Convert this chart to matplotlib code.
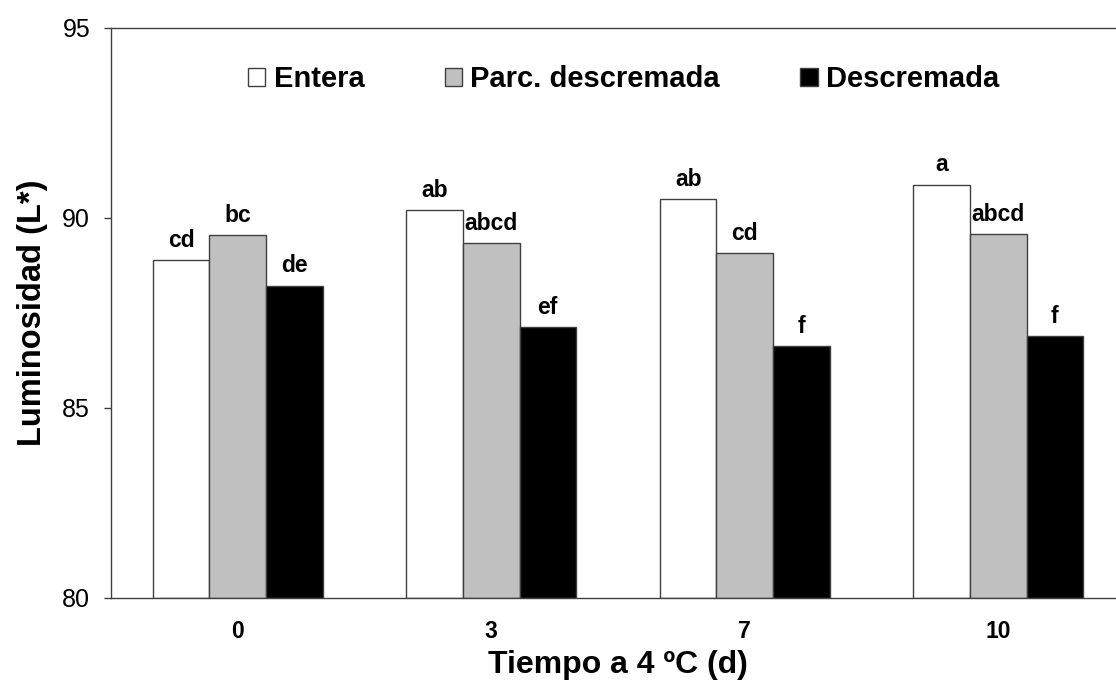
import matplotlib.pyplot as plt
import numpy as np

plt.rcParams['font.family'] = ['Liberation Sans', 'DejaVu Sans']

# Data
days = ["0", "3", "7", "10"]
series_names = ["Entera", "Parc. descremada", "Descremada"]
entera = [88.9, 90.2, 90.5, 90.88]
parc_descremada = [89.55, 89.35, 89.07, 89.58]
descremada = [88.22, 87.12, 86.63, 86.9]

# Significance letters above each bar
letters_entera = ["cd", "ab", "ab", "a"]
letters_parc = ["bc", "abcd", "cd", "abcd"]
letters_desc = ["de", "ef", "f", "f"]

colors = ["white", "#C0C0C0", "black"]
edge = "#404040"

fig = plt.figure(figsize=(11.16, 6.81), dpi=100)
# axes runs slightly past the right edge like the original
ax = fig.add_axes([111 / 1116, 83 / 681, 1014 / 1116, 570 / 681])

x = np.arange(len(days))
width = 0.223
values = [entera, parc_descremada, descremada]
letters = [letters_entera, letters_parc, letters_desc]

for i, (vals, labs) in enumerate(zip(values, letters)):
    pos = x + (i - 1) * width
    ax.bar(pos, np.array(vals) - 80, width, bottom=80, color=colors[i],
           edgecolor=edge, linewidth=1, label=series_names[i])
    for xp, v, lab in zip(pos, vals, labs):
        ax.annotate(lab, (xp, v), xytext=(0, 9.5), textcoords="offset points",
                    ha="center", va="baseline", fontsize=16.5, fontweight="bold")

ax.set_xlim(-0.5, 3.5)
ax.set_ylim(80, 95)
ax.set_yticks([80, 85, 90, 95])
ax.set_xticks(x)
ax.set_xticklabels(days, fontsize=16.5, fontweight="bold")
ax.tick_params(axis="y", direction="out", length=5, width=1, color=edge,
               labelsize=18, pad=10)
ax.tick_params(axis="x", length=0, pad=16)

for side in ["left", "bottom", "top", "right"]:
    ax.spines[side].set_color(edge)
    ax.spines[side].set_linewidth(1)

ax.set_ylabel("Luminosidad (L*)", fontsize=23.5, fontweight="bold", labelpad=10)
ax.set_xlabel("Tiempo a 4 ºC (d)", fontsize=23, fontweight="bold", labelpad=5)

# Legend in one row at the top
ax.legend(loc="center left", bbox_to_anchor=(0.135, 0.91), ncol=3,
          frameon=False, prop={"size": 21, "weight": "bold"},
          handlelength=0.6, handleheight=0.6, handletextpad=0.28,
          columnspacing=2.75, borderpad=0, borderaxespad=0)

fig.savefig("out.png", dpi=100)
